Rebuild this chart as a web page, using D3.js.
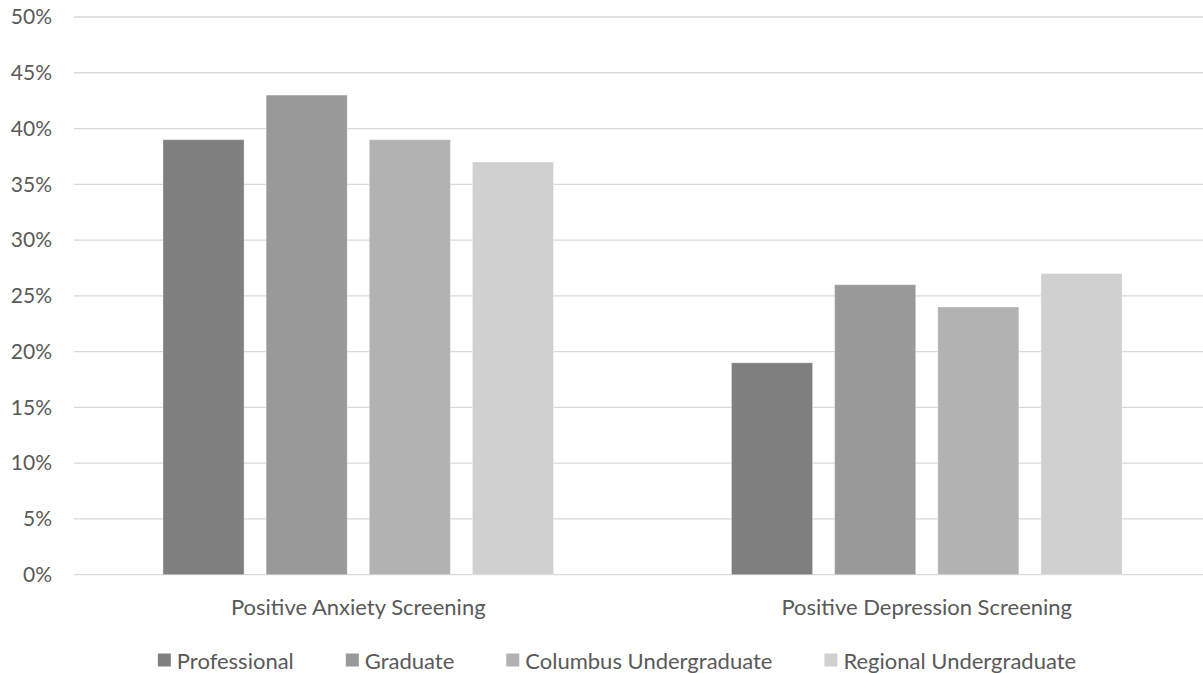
<!DOCTYPE html>
<html>
<head>
<meta charset="utf-8">
<script src="https://cdn.jsdelivr.net/npm/d3@7"></script>
<style>
  html, body { margin: 0; padding: 0; background: #fff; }
  svg { display: block; }
  text { font-family: Lato, "Open Sans", sans-serif; fill: #595959; }
</style>
</head>
<body>
<svg id="chart" width="1203" height="673"></svg>
<script>
// Screening categories along the x axis
const categories = ["Positive Anxiety Screening", "Positive Depression Screening"];

// Student groups (one bar per group in each category)
const seriesNames = ["Professional", "Graduate", "Columbus Undergraduate", "Regional Undergraduate"];

// Percent screening positive, per group, in category order
const professional = [39, 19];
const graduate = [43, 26];
const columbusUndergraduate = [39, 24];
const regionalUndergraduate = [37, 27];

// Y axis tick values (percent)
const yTicks = [0, 5, 10, 15, 20, 25, 30, 35, 40, 45, 50];

const seriesValues = [professional, graduate, columbusUndergraduate, regionalUndergraduate];
const colors = ["#7f7f7f", "#999999", "#b2b2b2", "#d0d0d0"];

const svg = d3.select("#chart");
const plot = { left: 74, right: 1211, top: 17, bottom: 574.7 };

const y = d3.scaleLinear().domain([0, 50]).range([plot.bottom, plot.top]);

// Outer band: one slot per category; inner band: one bar per group
const x0 = d3.scaleBand()
  .domain(categories)
  .range([plot.left, plot.right])
  .paddingInner(0.313)
  .paddingOuter(0.1565);

const x1 = d3.scaleBand()
  .domain(seriesNames)
  .range([0, x0.bandwidth()])
  .paddingInner(0.2136)
  .paddingOuter(0);

// Horizontal gridlines
svg.append("g")
  .selectAll("line")
  .data(yTicks)
  .join("line")
  .attr("x1", plot.left)
  .attr("x2", plot.right)
  .attr("y1", d => y(d))
  .attr("y2", d => y(d))
  .attr("stroke", "#d9d9d9")
  .attr("stroke-width", 1.3);

// Y axis labels
const yAxis = d3.axisLeft(y)
  .tickValues(yTicks)
  .tickFormat(d => d + "%")
  .tickSize(0)
  .tickPadding(0);

const yAxisG = svg.append("g")
  .attr("transform", "translate(52,0)")
  .call(yAxis);
yAxisG.select(".domain").remove();
yAxisG.selectAll("text")
  .attr("font-size", 21)
  .attr("fill", "#595959")
  .attr("font-family", "Lato, 'Open Sans', sans-serif");

// Bars
const groups = svg.append("g")
  .selectAll("g")
  .data(categories)
  .join("g")
  .attr("transform", d => `translate(${x0(d)},0)`);

groups.selectAll("rect")
  .data((cat, ci) => seriesNames.map((name, si) => ({ name, si, value: seriesValues[si][ci] })))
  .join("rect")
  .attr("x", d => x1(d.name))
  .attr("width", x1.bandwidth())
  .attr("y", d => y(d.value))
  .attr("height", d => y(0) - y(d.value))
  .attr("fill", d => colors[d.si])
  .attr("stroke", "#ffffff")
  .attr("stroke-opacity", 0.35)
  .attr("stroke-width", 1);

// Category labels
const xAxis = d3.axisBottom(x0).tickSize(0).tickPadding(0);
const xAxisG = svg.append("g")
  .attr("transform", `translate(0,${plot.bottom})`)
  .call(xAxis);
xAxisG.select(".domain").remove();
xAxisG.selectAll("text")
  .attr("font-size", 22)
  .attr("fill", "#595959")
  .attr("font-family", "Lato, 'Open Sans', sans-serif")
  .attr("dy", null)
  .attr("y", 32)
  .attr("dominant-baseline", "central");

// Legend, laid out from measured label widths and centred
const legend = svg.append("g");
const sq = 13, sqGap = 6, itemGap = 52, legendY = 660, legendCenter = 617;

const items = legend.selectAll("g")
  .data(seriesNames)
  .join("g");

items.append("rect")
  .attr("width", sq)
  .attr("height", sq)
  .attr("y", legendY - sq / 2)
  .attr("fill", (d, i) => colors[i]);

items.append("text")
  .attr("x", sq + sqGap)
  .attr("y", legendY)
  .attr("dominant-baseline", "central")
  .attr("font-size", 22)
  .text(d => d);

const widths = [];
items.each(function () {
  widths.push(sq + sqGap + d3.select(this).select("text").node().getComputedTextLength());
});
const total = d3.sum(widths) + itemGap * (widths.length - 1);
let cursor = legendCenter - total / 2;
items.attr("transform", (d, i) => {
  const tx = cursor;
  cursor += widths[i] + itemGap;
  return `translate(${tx},0)`;
});
</script>
</body>
</html>
